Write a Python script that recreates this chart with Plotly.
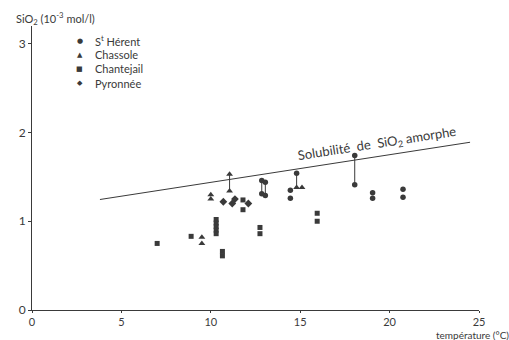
import plotly.graph_objects as go

# ---- data ----
sth_x = [12.85, 12.85, 13.05, 13.05, 14.45, 14.45, 14.8, 18.05, 18.05, 19.05, 19.05, 20.75, 20.75]
sth_y = [1.46, 1.31, 1.44, 1.29, 1.35, 1.26, 1.54, 1.74, 1.41, 1.32, 1.26, 1.36, 1.27]

cha_x = [9.5, 9.5, 10.0, 10.0, 11.05, 11.05, 14.8, 15.1]
cha_y = [0.82, 0.75, 1.30, 1.25, 1.53, 1.34, 1.38, 1.38]

chj_x = [7.0, 8.9, 10.3, 10.3, 10.3, 10.3, 10.3, 10.65, 10.65, 11.8, 11.8, 12.75, 12.75, 15.95, 15.95]
chj_y = [0.75, 0.83, 1.02, 0.98, 0.94, 0.90, 0.86, 0.66, 0.61, 1.24, 1.13, 0.93, 0.86, 1.09, 1.00]

pyr_x = [10.7, 11.2, 11.35, 12.1]
pyr_y = [1.22, 1.20, 1.25, 1.20]

# vertical tie lines between paired measurements
tie_x = [11.05, 12.85, 13.05, 14.8, 18.05]
tie_y0 = [1.34, 1.31, 1.29, 1.38, 1.41]
tie_y1 = [1.53, 1.46, 1.44, 1.54, 1.74]

# solubility of amorphous silica (line end points)
sol_x = [3.8, 24.5]
sol_y = [1.245, 1.89]

x_ticks = [0, 5, 10, 15, 20, 25]
y_ticks = [0, 1, 2, 3]

series_names = ["S<sup>t</sup> Hérent", "Chassole", "Chantejail", "Pyronnée"]
series_symbols = ["circle", "triangle-up", "square", "diamond"]
legend_glyphs = ["●", "▲", "■", "◆"]

INK = "#3a3a3a"
FONT = "Lato"

fig = go.Figure()

fig.add_trace(go.Scatter(x=sol_x, y=sol_y, mode="lines",
                         line=dict(color=INK, width=1), showlegend=False, hoverinfo="skip"))

tx, ty = [], []
for x, a, b in zip(tie_x, tie_y0, tie_y1):
    tx += [x, x, None]
    ty += [a, b, None]
fig.add_trace(go.Scatter(x=tx, y=ty, mode="lines", line=dict(color=INK, width=1),
                         showlegend=False, hoverinfo="skip"))

sizes = [5.5, 6, 5, 6]
for xs, ys, nm, sym, sz in zip([sth_x, cha_x, chj_x, pyr_x], [sth_y, cha_y, chj_y, pyr_y],
                               series_names, series_symbols, sizes):
    fig.add_trace(go.Scatter(x=xs, y=ys, mode="markers", name=nm, showlegend=False,
                             marker=dict(color=INK, size=sz, symbol=sym, line=dict(width=0))))

# legend (drawn as annotations to match the compact spacing)
leg_top_px, leg_step_px = 41, 14.3
plot_h = 288
for i, (nm, g) in enumerate(zip(series_names, legend_glyphs)):
    py = 1 - (leg_top_px - 26 + i * leg_step_px) / plot_h
    fig.add_annotation(xref="paper", yref="paper", x=0.107, y=py, text=g, showarrow=False,
                       xanchor="center", yanchor="middle", borderpad=0,
                       font=dict(family="DejaVu Sans", size=7, color=INK))
    fig.add_annotation(xref="paper", yref="paper", x=0.138, y=py, text=nm, showarrow=False,
                       xanchor="left", yanchor="middle", borderpad=0,
                       font=dict(family=FONT, size=11, color=INK))

# label along the solubility line
lab_x = 19.3
slope = (sol_y[1] - sol_y[0]) / (sol_x[1] - sol_x[0])
lab_y = sol_y[0] + slope * (lab_x - sol_x[0])
fig.add_annotation(x=lab_x, y=lab_y, text="Solubilité &nbsp;de &nbsp;SiO<sub>2</sub> amorphe",
                   showarrow=False, textangle=-8.8, yshift=13,
                   font=dict(family=FONT, size=13, color=INK))

fig.add_annotation(xref="paper", yref="paper", x=-0.04, y=1.028, xanchor="left", yanchor="middle",
                   text="SiO<sub>2</sub> (10<sup>-3</sup> mol/l)", showarrow=False,
                   font=dict(family=FONT, size=11, color=INK))
fig.add_annotation(xref="paper", yref="paper", x=1.07, y=-0.062, xanchor="right", yanchor="top",
                   text="température (°C)", showarrow=False, borderpad=0,
                   font=dict(family=FONT, size=10, color=INK))

fig.update_layout(
    width=509, height=340,
    margin=dict(l=32, r=30, t=26, b=26),
    paper_bgcolor="white", plot_bgcolor="white",
    font=dict(family=FONT, size=11, color=INK),
    showlegend=False,
    xaxis=dict(range=[0, 25], tickvals=x_ticks, showgrid=False, zeroline=False,
               showline=True, linecolor=INK, linewidth=1, ticks="outside", ticklen=2,
               tickcolor=INK, tickfont=dict(family=FONT, size=11, color=INK)),
    yaxis=dict(range=[0, 3.2], tickvals=y_ticks, showgrid=False, zeroline=False,
               showline=True, linecolor=INK, linewidth=1, ticks="outside", ticklen=3,
               tickcolor=INK, tickfont=dict(family=FONT, size=12, color=INK)),
)

fig.write_html("out.html")
